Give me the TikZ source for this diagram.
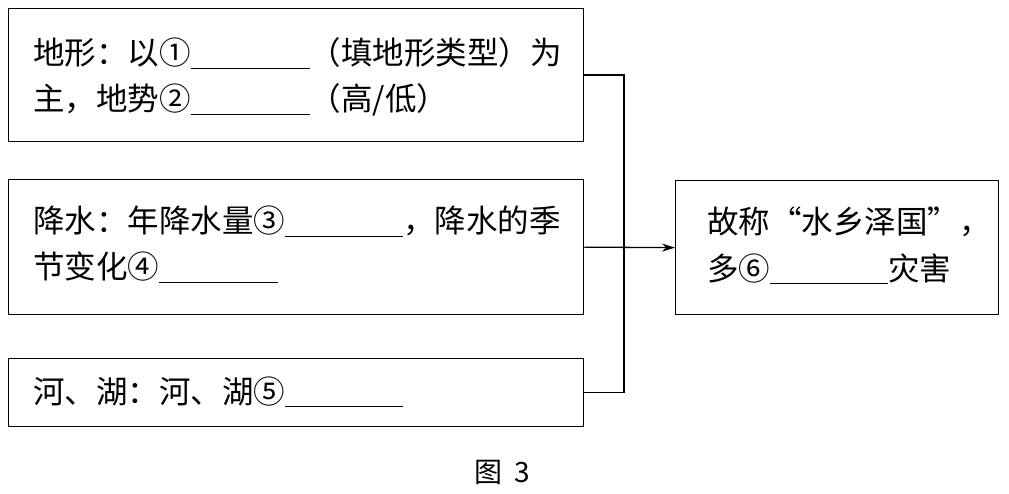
\documentclass[tikz,border=0pt]{standalone}
\usepackage{fontspec}
\newfontfamily\cjk{Noto Sans CJK SC}
\usetikzlibrary{arrows.meta}
\newcommand\myblank[1]{\rule[-4pt]{#1pt}{0.9pt}}
\newcommand\circnum[1]{\makebox[1em]{#1}}
\begin{document}
\begin{tikzpicture}[x=1pt,y=-1pt,
  box/.style={draw, line width=1.3pt, inner sep=0pt, anchor=north west},
  txt/.style={anchor=base west, inner sep=0pt, font=\cjk\fontsize{31.5}{36}\selectfont},
  captxt/.style={anchor=base west, inner sep=0pt, font=\cjk\fontsize{28}{32}\selectfont},
  link/.style={line width=1.3pt}]
\useasboundingbox (0,0) rectangle (1009,494);
\node[box, minimum width=575pt, minimum height=133pt] (b1) at (8,8) {};
\node[box, minimum width=575pt, minimum height=135pt] (b2) at (8,179) {};
\node[box, minimum width=575pt, minimum height=68pt] (b3) at (8,358) {};
\node[box, minimum width=323pt, minimum height=134pt] (b4) at (675,180) {};
\node[txt] (t11) at (33,65) {地形：以\circnum{①}\myblank{119}（填地形类型）为};
\node[txt] (t12) at (33,111) {主，地势\circnum{②}\myblank{119}（高/低）};
\node[txt] (t21) at (33,233) {降水：年降水量\circnum{③}\myblank{118}，降水的季};
\node[txt] (t22) at (33,279) {节变化\circnum{④}\myblank{119}};
\node[txt] (t31) at (33,403) {河、湖：河、湖\circnum{⑤}\myblank{118}};
\node[txt] (t41) at (707,234) {故称\makebox[1em][r]{“}水乡泽国\makebox[1em][l]{”}，};
\node[txt] (t42) at (707,280) {多\circnum{⑥}\myblank{118}灾害};
\node[captxt] (cap) at (474,482) {图\hspace{12pt}3};
\coordinate (jt) at (624,0);
\draw[link] (b1.east) -- (b1.east -| jt) -- (b3.east -| jt) -- (b3.east);
\draw[link, -{Stealth[length=13pt,width=8pt]}] (b2.east) -- (b4.west);
\end{tikzpicture}
\end{document}
